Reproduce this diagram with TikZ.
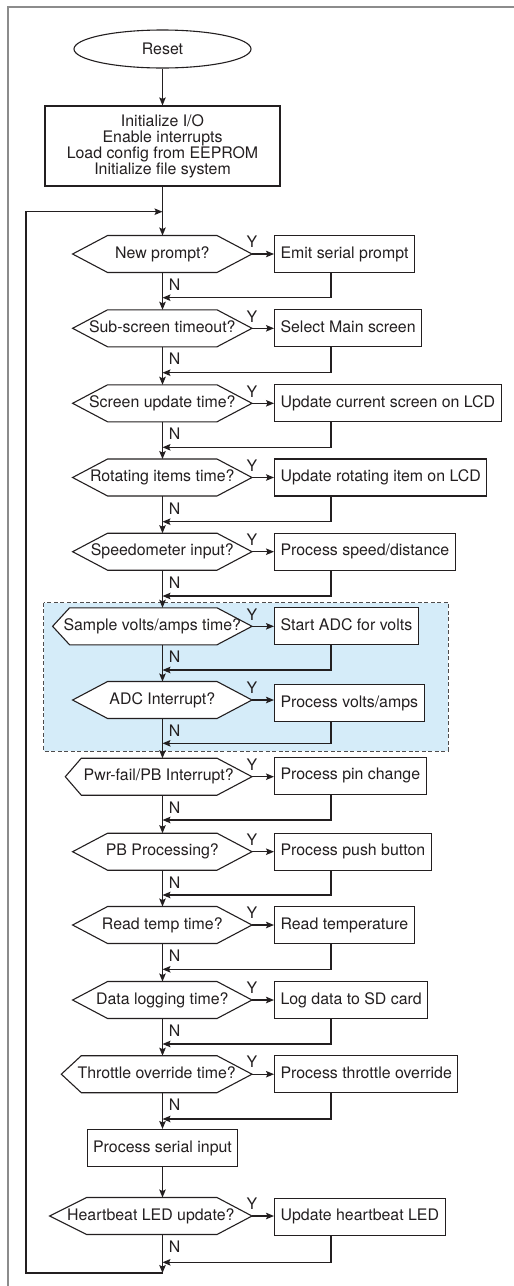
\documentclass[tikz,border=0pt]{standalone}
\usepackage{fontspec}
\setmainfont{TeX Gyre Heros}
\usepackage{xcolor}
\usetikzlibrary{arrows.meta,shapes.geometric,backgrounds}
\definecolor{ink}{RGB}{35,31,32}
\definecolor{adcblue}{RGB}{213,236,249}

\begin{document}
\begin{tikzpicture}[
    x=1pt, y=-1pt,
    font=\fontsize{15.9}{16}\selectfont,
    every node/.style={text=ink},
    term/.style={
        ellipse, draw=ink, fill=white, line width=1.1pt,
        minimum width=177, minimum height=38, inner sep=0pt
    },
    startbox/.style={
        rectangle, draw=ink, fill=white, line width=1.1pt,
        minimum width=235, minimum height=80, align=center
    },
    proc/.style={
        rectangle, draw=ink, fill=white, line width=1.1pt,
        minimum height=37, inner xsep=6pt, inner ysep=0pt,
        text height=11.5pt, text depth=3.3pt
    },
    dec/.style={
        anchor=east, minimum height=36.6, inner sep=0pt,
        text height=11.5pt, text depth=3.3pt
    },
    hex/.style={draw=ink, fill=white, line width=1.1pt},
    flow/.style={-{Stealth[length=8pt,width=6.5pt,inset=1.5pt]}, line width=1.1pt, draw=ink},
    ylab/.style={anchor=south, inner sep=0pt, yshift=5.7pt},
    nlab/.style={anchor=north west, inner sep=0pt, xshift=5.8pt, yshift=-6pt}
]
\useasboundingbox (0,0) rectangle (514,1286);

% frame
\draw[black!45, line width=2pt] (8,1286) -- (8,7) -- (514,7);

% start
\node[term] (reset) at (162.5,49) {Reset};
\node[startbox] (init) at (162.5,146) {Initialize I/O\\Enable interrupts\\Load config from EEPROM\\Initialize file system};

% tests
\node[dec, minimum width=179] (d1) at (252,254) {New prompt?};
\node[dec, minimum width=179] (d2) at (252,328.3) {Sub-screen timeout?};
\node[dec, minimum width=179] (d3) at (252,403.3) {Screen update time?};
\node[dec, minimum width=179] (d4) at (252,477.5) {Rotating items time?};
\node[dec, minimum width=179] (d5) at (252,551.7) {Speedometer input?};
\node[dec, minimum width=199] (d6) at (252,626.3) {Sample volts/amps time?};
\node[dec, minimum width=179] (d7) at (252,700) {ADC Interrupt?};
\node[dec, minimum width=186.3] (d8) at (252,776.7) {Pwr-fail/PB Interrupt?};
\node[dec, minimum width=179] (d9) at (252,851.7) {PB Processing?};
\node[dec, minimum width=179] (d10) at (252,925) {Read temp time?};
\node[dec, minimum width=179] (d11) at (252,1000) {Data logging time?};
\node[dec, minimum width=190.3] (d12) at (252,1074.2) {Throttle override time?};
\node[proc] (serial) at (162.5,1148) {Process serial input};
\node[dec, minimum width=202] (d13) at (252,1216) {Heartbeat LED update?};

% actions
\node[proc, anchor=west] (b1) at (274,254) {Emit serial prompt};
\node[proc, anchor=west] (b2) at (274,328.3) {Select Main screen};
\node[proc, anchor=west] (b3) at (274,403.3) {Update current screen on LCD};
\node[proc, anchor=west] (b4) at (274,477.5) {Update rotating item on LCD};
\node[proc, anchor=west] (b5) at (274,551.7) {Process speed/distance};
\node[proc, anchor=west] (b6) at (274,626.3) {Start ADC for volts};
\node[proc, anchor=west] (b7) at (274,703) {Process volts/amps};
\node[proc, anchor=west] (b8) at (274,775.7) {Process pin change};
\node[proc, anchor=west] (b9) at (274,851.7) {Process push button};
\node[proc, anchor=west] (b10) at (274,925) {Read temperature};
\node[proc, anchor=west] (b11) at (274,1000) {Log data to SD card};
\node[proc, anchor=west] (b12) at (274,1074.2) {Process throttle override};
\node[proc, anchor=west] (b13) at (274,1216.7) {Update heartbeat LED};

% joins on the main line
\coordinate (top) at (162.5,211.7);
\coordinate (j1) at (162.5,297.7);
\coordinate (j2) at (162.5,372.7);
\coordinate (j3) at (162.5,447.3);
\coordinate (j4) at (162.5,521.7);
\coordinate (j5) at (162.5,596);
\coordinate (j6) at (162.5,670);
\coordinate (j7) at (162.5,743.3);
\coordinate (j8) at (162.5,820);
\coordinate (j9) at (162.5,895);
\coordinate (j10) at (162.5,969.3);
\coordinate (j11) at (162.5,1044);
\coordinate (j12) at (162.5,1119);
\coordinate (j13) at (162.5,1262.3);
\coordinate (bot) at (162.5,1273);
\coordinate (lp) at (26,1273);

% hexagons and ADC group behind the text
\begin{pgfonlayer}{background}
\fill[adcblue] (43.7,602.7) rectangle (448.3,751);
\draw[ink!80, dash pattern=on 4pt off 2.5pt, line width=1pt] (43.7,602.7) rectangle (448.3,751);
\foreach \n/\s in {d1/35,d2/35,d3/35,d4/35,d5/35,d6/17,d7/35,d8/16,d9/35,d10/35,d11/35,d12/20,d13/37}
    \draw[hex] (\n.west) -- ([xshift=\s]\n.north west) -- ([xshift=-35]\n.north east) -- (\n.east)
        -- ([xshift=-35]\n.south east) -- ([xshift=\s]\n.south west) -- cycle;
\end{pgfonlayer}

% main line
\draw[flow] (reset) -- (init);
\draw[flow] (init) -- (d1.north -| init);
\foreach \a/\b in {d1/d2,d2/d3,d3/d4,d4/d5,d5/d6,d6/d7,d7/d8,d8/d9,d9/d10,d10/d11,d11/d12,d12/serial}
    \draw[flow] (\a.south -| init) -- node[nlab, pos=0] {N} (\b.north -| init);
\draw[flow] (serial) -- (d13.north -| init);
\draw[flow] (d13.south -| init) -- node[nlab, pos=0] {N} (bot);

% yes branches and returns
\foreach \i in {1,...,13} {
    \draw[flow] (d\i.east) -- node[ylab, pos=0] {Y} (d\i.east -| b\i.west);
    \draw[flow] ([xshift=57]b\i.south west) |- (j\i);
}

% loop back
\draw[flow] (bot) -- (lp) |- (top);

\end{tikzpicture}
\end{document}
